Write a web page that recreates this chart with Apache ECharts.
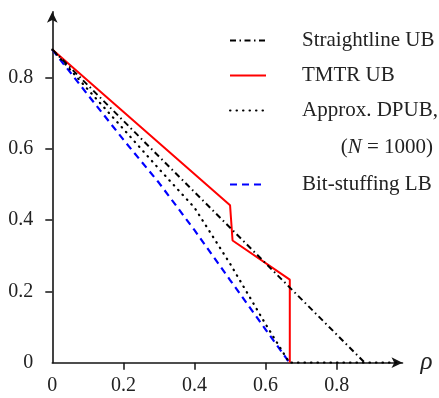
<!DOCTYPE html>
<html>
<head>
<meta charset="utf-8">
<script src="https://cdn.jsdelivr.net/npm/echarts@6/dist/echarts.min.js"></script>
<style>html,body{margin:0;padding:0;background:#fff;}#c{width:439px;height:398px;}</style>
</head>
<body>
<div id="c"></div>
<script>
// ---- data ----
const seriesNames = ['Straightline UB', 'TMTR UB', 'Approx. DPUB,', 'Bit-stuffing LB'];
const straightX = [0, 0.879];
const straightY = [0.879, 0];
const tmtrX = [0, 0.5, 0.507, 0.668, 0.668];
const tmtrY = [0.879, 0.442, 0.343, 0.233, 0];
const dpubX = [0, 0.1, 0.2, 0.3, 0.4, 0.5, 0.6, 0.667, 0.97];
const dpubY = [0.879, 0.767, 0.656, 0.544, 0.435, 0.278, 0.108, 0, 0];
const bitX = [0, 0.1, 0.2, 0.3, 0.4, 0.5, 0.6, 0.667];
const bitY = [0.879, 0.752, 0.626, 0.505, 0.372, 0.232, 0.093, 0];
const tickValues = [0.2, 0.4, 0.6, 0.8];
const labelValues = [0, 0.2, 0.4, 0.6, 0.8];

const pairs = (xs, ys) => xs.map((x, i) => [x, ys[i]]);
const FONT = 'Liberation Serif';
const AX = '#151515';
const fmt = v => (v === 0 ? '0' : v.toFixed(1));

function mainAxis(extra) {
  return Object.assign({
    type: 'value', min: 0, max: 0.985,
    axisLine: { show: true, onZero: false, lineStyle: { color: AX, width: 1.6 }, symbol: ['none', 'arrow'], symbolSize: [8, 11] },
    axisTick: { show: true, inside: false, length: 7, lineStyle: { color: AX, width: 1.5 }, customValues: tickValues },
    splitLine: { show: false }
  }, extra);
}
function innerAxis(extra) {
  return Object.assign({
    type: 'value', min: 0, max: 0.985,
    axisLine: { show: false },
    axisTick: { show: true, inside: true, length: 7, lineStyle: { color: AX, width: 1.5 }, customValues: tickValues },
    axisLabel: { show: false },
    splitLine: { show: false }
  }, extra);
}
const legendText = { fontFamily: FONT, fontSize: 21, color: '#222', lineHeight: 21, padding: [0, 0, 0, 31] };

const chart = echarts.init(document.getElementById('c'), null, { renderer: 'canvas' });
chart.setOption({
  animation: false,
  backgroundColor: '#fff',
  grid: { left: 52.3, right: 36.5, top: 11.8, bottom: 35.3 },
  xAxis: [
    mainAxis({
      axisLabel: { show: true, customValues: labelValues, formatter: fmt, fontFamily: FONT, fontSize: 20, color: '#222', margin: 13 },
      name: 'ρ', nameLocation: 'end', nameGap: 18,
      nameTextStyle: { fontFamily: FONT, fontStyle: 'italic', fontSize: 25, color: '#222', verticalAlign: 'middle' }
    }),
    innerAxis({})
  ],
  yAxis: [
    mainAxis({
      axisLabel: { show: true, customValues: labelValues, formatter: fmt, fontFamily: FONT, fontSize: 20, color: '#222', margin: 19 }
    }),
    innerAxis({})
  ],
  legend: [
    {
      orient: 'vertical', left: 229, top: 30, padding: 0, itemWidth: 36, itemHeight: 14, itemGap: 14,
      data: seriesNames.slice(0, 3),
      itemStyle: { opacity: 0 },
      textStyle: legendText,
      selectedMode: false
    },
    {
      orient: 'vertical', left: 229, top: 174, padding: 0, itemWidth: 36, itemHeight: 14,
      data: seriesNames.slice(3),
      itemStyle: { opacity: 0 },
      textStyle: legendText,
      selectedMode: false
    }
  ],
  graphic: [
    {
      type: 'text', right: 6, top: 137,
      style: {
        text: '({i|N} = 1000)', font: '21px "Liberation Serif"', fill: '#222',
        rich: { i: { fontFamily: FONT, fontStyle: 'italic', fontSize: 21, fill: '#222' } }
      }
    }
  ],
  series: [
    {
      name: seriesNames[0], type: 'line', symbol: 'none', data: pairs(straightX, straightY), z: 4,
      lineStyle: { color: '#000', width: 2, type: [6, 3.5, 1.5, 3.5] }, itemStyle: { color: '#000' }
    },
    {
      name: seriesNames[1], type: 'line', symbol: 'none', data: pairs(tmtrX, tmtrY), z: 3,
      lineStyle: { color: '#ff0000', width: 2 }, itemStyle: { color: '#ff0000' }
    },
    {
      name: seriesNames[2], type: 'line', symbol: 'none', data: pairs(dpubX, dpubY), z: 5,
      lineStyle: { color: '#000', width: 2.2, type: [0.5, 6], cap: 'round' }, itemStyle: { color: '#000' }
    },
    {
      name: seriesNames[3], type: 'line', symbol: 'none', data: pairs(bitX, bitY), z: 2,
      lineStyle: { color: '#0000ff', width: 2.2, type: [7, 5] }, itemStyle: { color: '#0000ff' }
    }
  ]
});
</script>
</body>
</html>
